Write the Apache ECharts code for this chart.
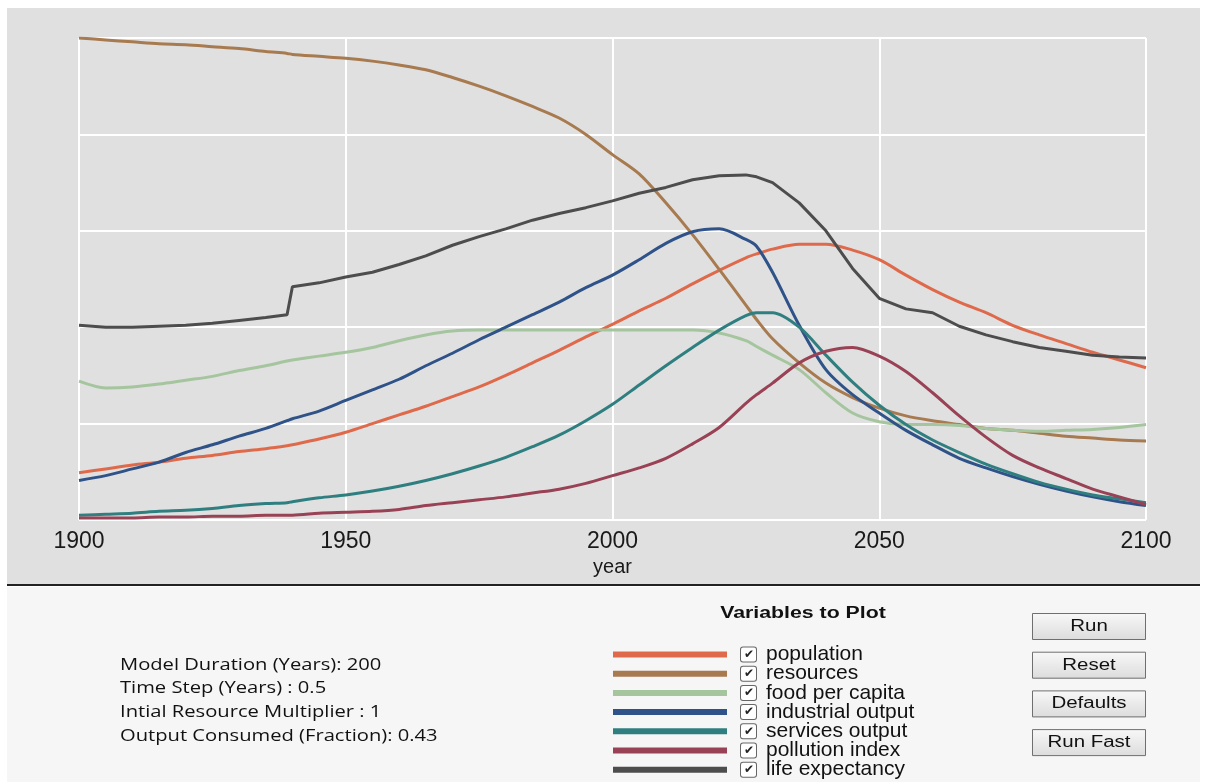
<!DOCTYPE html>
<html>
<head>
<meta charset="utf-8">
<title>World model run</title>
<script src="https://cdn.jsdelivr.net/npm/echarts@6/dist/echarts.min.js"></script>
<style>
  html, body { margin: 0; padding: 0; background: #fff; }
  #main { width: 1207px; height: 782px; }
</style>
</head>
<body>
<div id="main"></div>
<script>
// simulation output (y axis has no labels, 0..5 scale)
const years = [1900, 1905, 1910, 1915, 1920, 1925, 1930, 1935, 1939, 1940, 1945, 1950, 1955, 1960, 1965,
  1970, 1975, 1980, 1985, 1990, 1995, 2000, 2005, 2010, 2015, 2020, 2025, 2027, 2030, 2035, 2040, 2045,
  2050, 2055, 2060, 2065, 2070, 2075, 2080, 2085, 2090, 2095, 2100];

const population = [0.49, 0.53, 0.57, 0.60, 0.64, 0.67, 0.71, 0.74, 0.77, 0.78, 0.84, 0.91, 1.00, 1.09, 1.18,
  1.28, 1.38, 1.50, 1.63, 1.76, 1.90, 2.03, 2.17, 2.30, 2.45, 2.59, 2.72, 2.76, 2.81, 2.86, 2.86, 2.80,
  2.70, 2.54, 2.39, 2.26, 2.15, 2.02, 1.92, 1.83, 1.74, 1.66, 1.58];
const resources = [5.00, 4.98, 4.96, 4.94, 4.93, 4.91, 4.89, 4.86, 4.84, 4.83, 4.81, 4.79, 4.76, 4.72, 4.67,
  4.59, 4.50, 4.40, 4.29, 4.17, 4.00, 3.79, 3.59, 3.29, 2.96, 2.60, 2.23, 2.08, 1.88, 1.63, 1.42, 1.27,
  1.16, 1.08, 1.03, 0.99, 0.95, 0.93, 0.90, 0.87, 0.85, 0.83, 0.82];
const foodPerCapita = [1.44, 1.37, 1.38, 1.41, 1.45, 1.49, 1.55, 1.60, 1.65, 1.66, 1.70, 1.74, 1.79, 1.86, 1.92,
  1.96, 1.97, 1.97, 1.97, 1.97, 1.97, 1.97, 1.97, 1.97, 1.97, 1.94, 1.86, 1.80, 1.71, 1.56, 1.32, 1.11,
  1.02, 0.99, 0.99, 0.98, 0.95, 0.93, 0.92, 0.93, 0.94, 0.96, 0.99];
const industrialOutput = [0.41, 0.46, 0.53, 0.60, 0.70, 0.78, 0.87, 0.95, 1.03, 1.05, 1.13, 1.24, 1.35, 1.46, 1.60,
  1.73, 1.87, 2.00, 2.13, 2.26, 2.41, 2.54, 2.70, 2.87, 2.99, 3.02, 2.91, 2.84, 2.57, 2.02, 1.56, 1.30,
  1.11, 0.93, 0.78, 0.64, 0.54, 0.45, 0.37, 0.30, 0.24, 0.19, 0.15];
const servicesOutput = [0.05, 0.06, 0.07, 0.09, 0.10, 0.12, 0.15, 0.17, 0.18, 0.19, 0.23, 0.26, 0.30, 0.35, 0.41,
  0.48, 0.56, 0.65, 0.76, 0.88, 1.03, 1.20, 1.40, 1.60, 1.79, 1.97, 2.12, 2.15, 2.15, 2.00, 1.71, 1.43,
  1.19, 0.99, 0.83, 0.70, 0.58, 0.48, 0.39, 0.32, 0.26, 0.22, 0.18];
const pollutionIndex = [0.02, 0.02, 0.02, 0.03, 0.03, 0.04, 0.04, 0.05, 0.05, 0.05, 0.07, 0.08, 0.09, 0.11, 0.15,
  0.18, 0.21, 0.24, 0.28, 0.32, 0.38, 0.46, 0.54, 0.64, 0.79, 0.96, 1.21, 1.30, 1.42, 1.63, 1.75, 1.79,
  1.70, 1.54, 1.32, 1.08, 0.86, 0.67, 0.54, 0.43, 0.32, 0.24, 0.16];
const lifeExpectancy = [2.02, 2.00, 2.00, 2.01, 2.02, 2.04, 2.07, 2.10, 2.13, 2.42, 2.46, 2.52, 2.57, 2.65, 2.74,
  2.85, 2.94, 3.02, 3.11, 3.18, 3.24, 3.31, 3.39, 3.45, 3.53, 3.57, 3.58, 3.56, 3.50, 3.29, 3.00, 2.61,
  2.30, 2.19, 2.15, 2.01, 1.92, 1.85, 1.79, 1.75, 1.71, 1.69, 1.68];

const seriesNames = ['population', 'resources', 'food per capita', 'industrial output',
  'services output', 'pollution index', 'life expectancy'];
const seriesValues = [population, resources, foodPerCapita, industrialOutput,
  servicesOutput, pollutionIndex, lifeExpectancy];
const seriesColors = ['#df6a4b', '#a87a50', '#a5c59e', '#2f5388', '#2f7f80', '#9a4255', '#4d4d4d'];

const settingsText = ['Model Duration (Years): 200', 'Time Step (Years) : 0.5',
  'Intial Resource Multiplier : 1', 'Output Consumed (Fraction): 0.43'];
const buttonLabels = ['Run', 'Reset', 'Defaults', 'Run Fast'];

let myChart = echarts.init(document.getElementById('main'));

const series = seriesNames.map((name, i) => ({
  name: name,
  type: 'line',
  showSymbol: false,
  symbol: 'none',
  // life expectancy has a hard step in 1940, keep it straight
  smooth: name === 'life expectancy' ? false : 0.3,
  color: seriesColors[i],
  lineStyle: { width: 3, color: seriesColors[i] },
  data: years.map((y, j) => [y, seriesValues[i][j]])
}));

// the control panel text in the screenshot is stretched sideways, hence scaleX
const graphics = [
  { type: 'rect', z: -100, silent: true, shape: { x: 7, y: 8, width: 1193, height: 577 }, style: { fill: '#e0e0e0' } },
  { type: 'rect', z: -100, silent: true, shape: { x: 7, y: 584, width: 1193, height: 2 }, style: { fill: '#222' } },
  { type: 'rect', z: -100, silent: true, shape: { x: 7, y: 587, width: 1193, height: 195 }, style: { fill: '#f6f6f6' } },
  { type: 'text', x: 803, y: 614, scaleX: 1.33, style: { text: 'Variables to Plot', x: 0, y: 0,
      align: 'center', verticalAlign: 'middle',
      fontFamily: 'Liberation Sans, Arial', fontWeight: 'bold', fontSize: 16, fill: '#111' } }
];
settingsText.forEach((t, i) => {
  graphics.push({ type: 'text', x: 120, y: 665 + i * 23.7, scaleX: 1.26, style: { text: t, x: 0, y: 0,
    verticalAlign: 'middle', fontFamily: 'Open Sans', fontSize: 16, fill: '#111' } });
});
buttonLabels.forEach((t, i) => {
  const top = 613 + i * 38.7;
  graphics.push({ type: 'rect', shape: { x: 1032.5, y: top + 0.5, width: 113, height: 26 },
    style: { fill: new echarts.graphic.LinearGradient(0, 0, 0, 1, [
      { offset: 0, color: '#f8f8f8' }, { offset: 1, color: '#dcdcdc' }]), stroke: '#6f6f6f', lineWidth: 1 } });
  graphics.push({ type: 'text', x: 1089, y: top + 13.5, scaleX: 1.28, style: { text: t, x: 0, y: 0,
    align: 'center', verticalAlign: 'middle',
    fontFamily: 'Liberation Sans, Arial', fontSize: 16, fill: '#111' } });
});

myChart.setOption({
  animation: false,
  graphic: graphics,
  grid: { left: 79, top: 38, width: 1067, height: 482, containLabel: false },
  legend: {
    orient: 'vertical',
    left: 613,
    top: 644,
    height: 138,
    padding: 0,
    icon: 'rect',
    itemWidth: 114,
    itemHeight: 6,
    itemGap: -1.8,
    selectedMode: false,
    data: seriesNames,
    formatter: name => '{sp|}{cb|✔}{sp2|}{t|' + name + '}',
    textStyle: {
      lineHeight: 19,
      rich: {
        sp: { width: 9, lineHeight: 19 },
        sp2: { width: 10, lineHeight: 19 },
        cb: { width: 15, height: 14, align: 'center', fontSize: 12, color: '#222', backgroundColor: '#fff',
          borderColor: '#666', borderWidth: 1, borderRadius: 2, lineHeight: 14 },
        t: { fontFamily: 'Liberation Sans, Arial', fontSize: 21, color: '#111', lineHeight: 19 }
      }
    }
  },
  xAxis: {
    type: 'value',
    min: 1900,
    max: 2100,
    interval: 50,
    name: 'year',
    nameLocation: 'middle',
    nameGap: 33,
    nameTextStyle: { fontFamily: 'Liberation Sans, Arial', fontSize: 20, color: '#1a1a1a' },
    axisLine: { show: false },
    axisTick: { show: false },
    axisLabel: { margin: 10, fontFamily: 'Liberation Sans, Arial', fontSize: 23, color: '#1a1a1a',
      formatter: v => String(v) },
    splitLine: { lineStyle: { color: '#ffffff', width: 2 } }
  },
  yAxis: {
    type: 'value',
    min: 0,
    max: 5,
    interval: 1,
    axisLine: { show: false },
    axisTick: { show: false },
    axisLabel: { show: false },
    splitLine: { lineStyle: { color: '#ffffff', width: 2 } }
  },
  series: series
});

window.onresize = function () {
  myChart.resize();
};
</script>
</body>
</html>
